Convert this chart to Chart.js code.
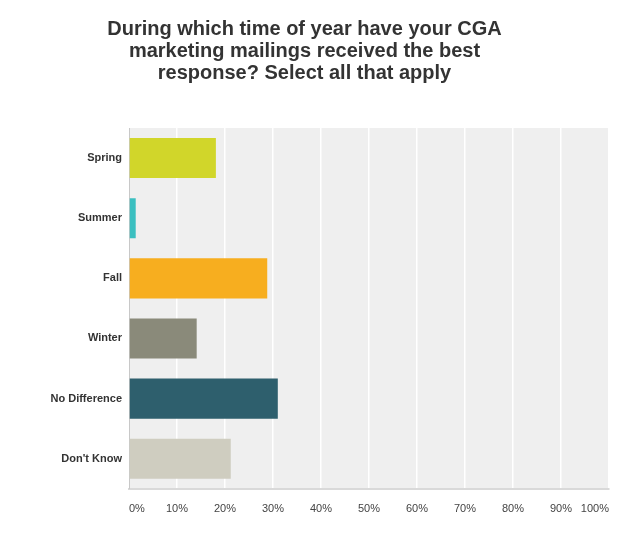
<!DOCTYPE html>
<html>
<head>
<meta charset="utf-8">
<script src="https://cdn.jsdelivr.net/npm/chart.js@4/dist/chart.umd.min.js"></script>
<style>
  html, body { margin: 0; padding: 0; background: #fff; }
  #wrap { width: 625px; height: 533px; position: relative; }
</style>
</head>
<body>
<div id="wrap"><canvas id="responseChart"></canvas></div>
<script>
const titleLines = [
    'During which time of year have your CGA',
    'marketing mailings received the best',
    'response? Select all that apply'
];
const categories = ['Spring', 'Summer', 'Fall', 'Winter', 'No Difference', "Don't Know"];
const percentages = [18.1, 1.4, 28.8, 14.1, 31.0, 21.2];
const barColors = ['#d1d62a', '#3bbfc0', '#f7ae1f', '#8a8a7a', '#2e5f6d', '#cfcdc0'];
const tickValues = [0, 10, 20, 30, 40, 50, 60, 70, 80, 90, 100];

// grey panel behind the bars
const plotBackground = {
    id: 'plotBackground',
    beforeDraw(chart) {
        const area = chart.chartArea;
        const ctx = chart.ctx;
        ctx.save();
        ctx.fillStyle = '#efefef';
        ctx.fillRect(area.left, area.top, area.right - area.left, area.bottom - area.top);
        ctx.restore();
    }
};

const config = {
    type: 'bar',
    data: {
        labels: categories,
        datasets: [{
            data: percentages,
            backgroundColor: barColors,
            borderWidth: 0,
            categoryPercentage: 1,
            barPercentage: 0.667
        }]
    },
    options: {
        indexAxis: 'y',
        responsive: true,
        maintainAspectRatio: false,
        animation: false,
        layout: {
            padding: { top: 0, right: 16, bottom: 3, left: 0 }
        },
        scales: {
            x: {
                min: 0,
                max: 100,
                afterBuildTicks: scale => {
                    scale.ticks = tickValues.map(v => ({ value: v }));
                },
                grid: {
                    color: '#ffffff',
                    lineWidth: 1.5,
                    drawTicks: false
                },
                border: { display: true, color: '#d9d9d9', width: 2 },
                ticks: {
                    align: 'inner',
                    padding: 14,
                    color: '#444',
                    font: { family: 'Liberation Sans, Arial, sans-serif', size: 11 },
                    callback: value => value + '%'
                }
            },
            y: {
                grid: { display: false, drawTicks: false },
                border: { display: true, color: '#c8c8c8', width: 1 },
                afterFit: scale => { scale.width = 129; },
                ticks: {
                    padding: 7,
                    color: '#333',
                    font: { family: 'Liberation Sans, Arial, sans-serif', size: 11, weight: 'bold' }
                }
            }
        },
        plugins: {
            legend: { display: false },
            tooltip: { enabled: false },
            title: {
                display: true,
                text: titleLines,
                color: '#333',
                font: { family: 'Liberation Sans, Arial, sans-serif', size: 20, weight: 'bold', lineHeight: 1.1 },
                padding: { top: 18, bottom: 44 }
            }
        }
    },
    plugins: [plotBackground]
};

new Chart(document.getElementById('responseChart'), config);
</script>
</body>
</html>
